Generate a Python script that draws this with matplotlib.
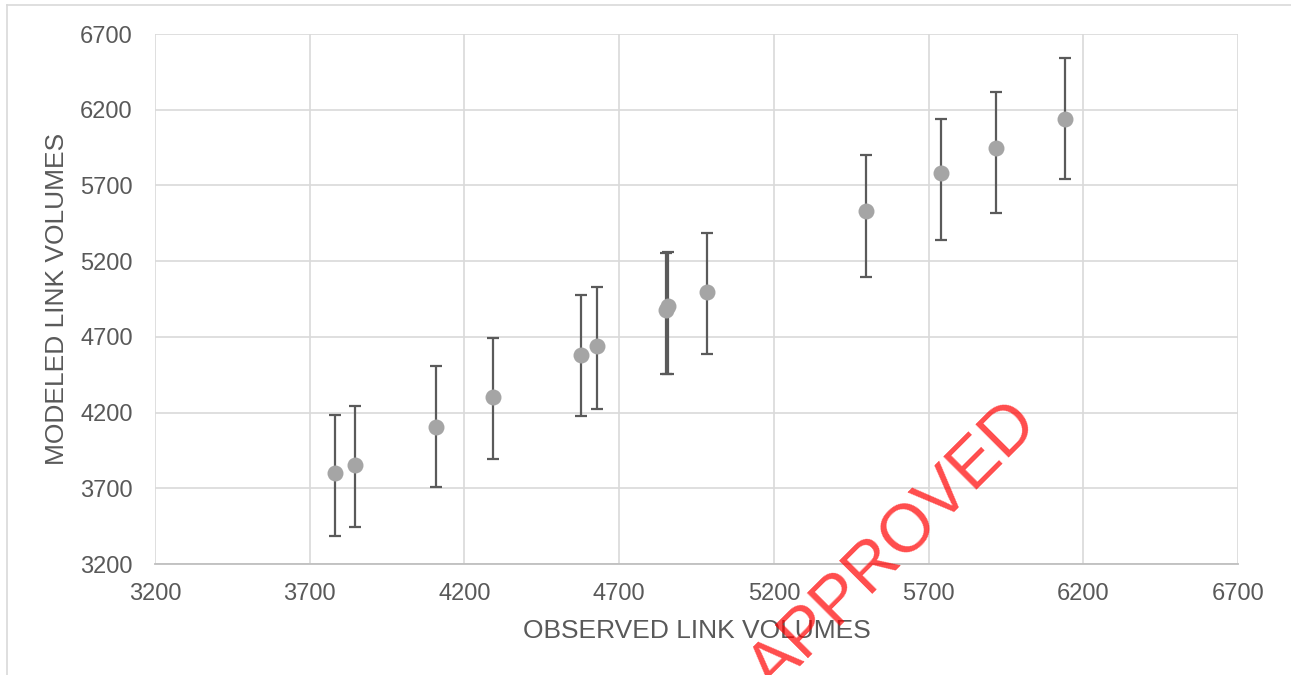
import matplotlib.pyplot as plt
from matplotlib.lines import Line2D

plt.rcParams['font.family'] = ['Liberation Sans', 'DejaVu Sans']

# observed vs modeled link volumes
observed = [3782, 3846, 4107, 4291, 4577, 4627, 4852, 4858, 4984, 5498, 5739, 5919, 6140]
modeled = [3799, 3852, 4103, 4303, 4578, 4638, 4878, 4905, 4997, 5529, 5784, 5945, 6141]
# tolerance band (+/-) around the observed volume
errors = [400, 400, 400, 400, 400, 400, 400, 400, 400, 400, 400, 400, 400]
ticks = [3200, 3700, 4200, 4700, 5200, 5700, 6200, 6700]

text_color = '#595959'
grid_color = '#d9d9d9'

fig = plt.figure(figsize=(12.91, 6.75), dpi=100)
ax = fig.add_axes([0.12, 0.1644, 0.839, 0.7852])

ax.errorbar(observed, observed, yerr=errors, fmt='none',
            ecolor='#5a5a5a', elinewidth=1.6, capsize=4.2, capthick=1.6,
            zorder=3)
ax.plot(observed, modeled, 'o', color='#a5a5a5', markersize=11.5,
        markeredgewidth=0, zorder=4)

ax.set_xlim(3200, 6700)
ax.set_ylim(3200, 6700)
ax.set_xticks(ticks)
ax.set_yticks(ticks)
ax.grid(True, color=grid_color, linewidth=1.2, zorder=0)
ax.set_axisbelow(True)

for side in ['top', 'right', 'left']:
    ax.spines[side].set_visible(False)
ax.spines['bottom'].set_color('#bfbfbf')
ax.spines['bottom'].set_linewidth(1.3)

ax.tick_params(length=0, labelsize=17, labelcolor=text_color)
ax.tick_params(axis='y', pad=16)
ax.tick_params(axis='x', pad=14)

ax.set_xlabel('OBSERVED LINK VOLUMES', fontsize=19, color=text_color, labelpad=10)
ax.set_ylabel('MODELED LINK VOLUMES', fontsize=19, color=text_color, labelpad=8)

# chart area border (left and top edges visible)
fig.add_artist(Line2D([7 / 1291, 7 / 1291], [0, 1 - 5 / 675],
                      transform=fig.transFigure, color=grid_color, linewidth=1.2))
fig.add_artist(Line2D([7 / 1291, 1], [1 - 5 / 675, 1 - 5 / 675],
                      transform=fig.transFigure, color=grid_color, linewidth=1.2))

# stamp, starts below the bottom edge like in the original
fig.text(774 / 1291, 1 - 694 / 675, 'APPROVED', fontsize=49, color='red',
         alpha=0.7, rotation=45, ha='left', va='baseline',
         rotation_mode='anchor', zorder=10)

fig.savefig('out.png', dpi=100)
